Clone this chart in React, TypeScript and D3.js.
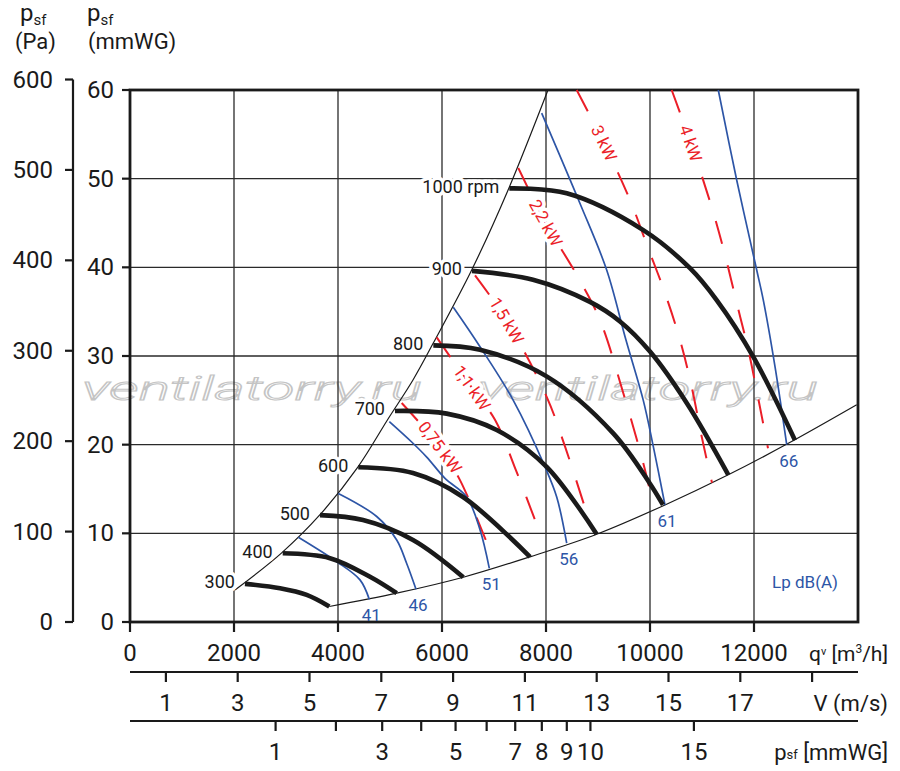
import React from "react";
import * as d3 from "d3";

type Pt = [number, number];

// axis ticks
const qTicks = [0, 2000, 4000, 6000, 8000, 10000, 12000];
const mmTicks = [0, 10, 20, 30, 40, 50, 60];
const paTicks = [0, 100, 200, 300, 400, 500, 600];
const vTicks = [1, 3, 5, 7, 9, 11, 13, 15, 17, 19];
const vLabels = [1, 3, 5, 7, 9, 11, 13, 15, 17];
const pdTicks = [1, 2, 3, 4, 5, 6, 7, 8, 9, 10, 15];
const pdLabels = [1, 3, 5, 7, 8, 9, 10, 15];

// fan curves, [qv m3/h, psf mmWG]
const rpmLabels = ["300", "400", "500", "600", "700", "800", "900", "1000 rpm"];
const rpm300: Pt[] = [[2211, 4.3], [2885, 3.8], [3398, 3.05], [3833, 1.75]];
const rpm400: Pt[] = [[2937, 7.75], [3846, 7.2], [4615, 5.1], [5129, 3.25]];
const rpm500: Pt[] = [[3654, 12.05], [4481, 11.5], [5442, 9.25], [6410, 5.05]];
const rpm600: Pt[] = [[4390, 17.45], [5442, 16.8], [6404, 14.1], [7692, 7.35]];
const rpm700: Pt[] = [[5096, 23.8], [6090, 23.5], [7052, 21.65], [8013, 17.5], [8975, 9.9]];
const rpm800: Pt[] = [[5833, 31.2], [6731, 30.7], [8013, 27.7], [9290, 21.3], [10000, 15.6], [10250, 13.2]];
const rpm900: Pt[] = [[6577, 39.6], [7750, 38.6], [8846, 36.1], [9423, 33.9], [10000, 30.5], [10706, 24.7], [11506, 16.6]];
const rpm1000: Pt[] = [[7294, 48.9], [8398, 48.35], [9871, 44.2], [10769, 39.9], [11282, 36.3], [11987, 29.9], [12788, 20.5]];
const rpmCurves = [rpm300, rpm400, rpm500, rpm600, rpm700, rpm800, rpm900, rpm1000];

// limits of the working area
const leftLimit: Pt[] = [[2019, 3.6], [2917, 7.8], [3654, 12.1], [4385, 17.5], [4962, 22.9], [5442, 27.3], [5827, 31.4], [6571, 39.7], [7269, 48.7], [8038, 60]];
const bottomLimit: Pt[] = [[3833, 1.75], [5129, 3.25], [6410, 5.05], [7692, 7.35], [8975, 9.9], [10288, 13.2], [11506, 16.6], [12660, 20.15], [13975, 24.5]];

// sound pressure lines
const dbLabels = ["41", "46", "51", "56", "61", "66"];
const db41: Pt[] = [[3237, 9.55], [3975, 6.8], [4423, 4.75], [4602, 2.55]];
const db46: Pt[] = [[4006, 14.5], [4744, 11.9], [5129, 9.25], [5321, 6.6], [5500, 3.7]];
const db51: Pt[] = [[4987, 22.6], [5417, 20.3], [5706, 18.6], [6058, 16.2], [6475, 14.1], [6731, 10.4], [6910, 6.05]];
const db56: Pt[] = [[6217, 35.5], [6731, 31.05], [7371, 25.0], [7981, 17.5], [8206, 14.1], [8398, 8.9]];
const db61: Pt[] = [[7917, 57.4], [8654, 47.2], [9167, 39.7], [9538, 31.8], [9871, 25.0], [10063, 19.8], [10288, 13.2]];
const db66: Pt[] = [[11313, 60], [11667, 49.85], [12052, 39.7], [12179, 36.3], [12404, 28.8], [12629, 20.0]];
const dbLines = [db41, db46, db51, db56, db61, db66];

// motor power lines (label sits on the 2nd point)
const kwLabels = ["0,75 kW", "1,1 kW", "1,5 kW", "2,2 kW", "3 kW", "4 kW"];
const kw075: Pt[] = [[5225, 24.7], [5962, 19.7], [6346, 16.0], [6904, 8.35]];
const kw11: Pt[] = [[5898, 32.1], [6577, 26.4], [7019, 22.8], [7423, 17.1], [7885, 10.0]];
const kw15: Pt[] = [[6635, 39.1], [7244, 34.0], [8013, 25.4], [8365, 19.8], [8782, 12.3]];
const kw22: Pt[] = [[7467, 51.2], [7996, 45.0], [8615, 38.9], [9038, 34.05], [9487, 25.8], [9871, 17.9], [10050, 13.5]];
const kw3: Pt[] = [[8590, 60], [9115, 54.0], [9615, 47.6], [9962, 42.2], [10288, 37.1], [10577, 31.8], [10802, 26.5], [11000, 20.75], [11192, 15.7]];
const kw4: Pt[] = [[10417, 60], [10785, 54.0], [11186, 46.8], [11442, 41.4], [11667, 36.0], [11890, 30.7], [12038, 26.5], [12269, 19.6]];
const kwLines = [kw075, kw11, kw15, kw22, kw3, kw4];

const RED = "#eb1e28";
const BLUE = "#2d55a6";
const INK = "#1a1a1a";
const FONT = "Roboto, 'DejaVu Sans', sans-serif";

export default function App() {
  const x = d3.scaleLinear().domain([0, 14000]).range([130, 858]);
  const y = d3.scaleLinear().domain([0, 60]).range([622, 90]);
  // same pressure in Pa (1 mmWG = 9.80665 Pa)
  const yPa = d3.scaleLinear().domain([0, 60 * 9.80665]).range([622, 90]);
  const xV = d3.scaleLinear().domain([0, 20]).range([130, 848]);
  const xPd = d3.scaleSqrt().domain([0, 16]).range([130, 712.4]);

  const line = d3
    .line<Pt>()
    .x((d) => x(d[0]))
    .y((d) => y(d[1]))
    .curve(d3.curveCatmullRom.alpha(0.5));

  const [x0, x1] = x.range();
  const [y0, y1] = y.range();

  return (
    <svg
      width={900}
      height={771}
      style={{ position: "absolute", left: 0, top: 0, background: "#fff" }}
      fontFamily={FONT}
    >
      {/* watermark */}
      {[82, 478].map((wx) => (
        <text
          key={wx}
          x={wx}
          y={400}
          fontSize={33}
          fontStyle="italic"
          fontWeight={300}
          fill="none"
          stroke="#c4c4c4"
          strokeWidth={1}
          textLength={340}
          lengthAdjust="spacingAndGlyphs"
        >
          ventilatorry.ru
        </text>
      ))}

      {/* grid */}
      <g stroke="#2a2a2a" strokeWidth={1.3}>
        {qTicks.slice(1).map((q) => (
          <line key={q} x1={x(q)} x2={x(q)} y1={y1} y2={y0} />
        ))}
        {mmTicks.slice(1, -1).map((p) => (
          <line key={p} x1={x0} x2={x1} y1={y(p)} y2={y(p)} />
        ))}
      </g>

      {/* frame and mmWG / qv ticks */}
      <g stroke={INK} strokeWidth={2.8} fill="none">
        <rect x={x0} y={y1} width={x1 - x0} height={y0 - y1} />
        {mmTicks.map((p) => (
          <line key={p} x1={x0 - 8} x2={x0} y1={y(p)} y2={y(p)} strokeWidth={2.2} />
        ))}
        {qTicks.map((q) => (
          <line key={q} x1={x(q)} x2={x(q)} y1={y0} y2={y0 + 10} strokeWidth={2.2} />
        ))}
      </g>

      {/* Pa axis */}
      <g stroke={INK} strokeWidth={2.2}>
        <line x1={73} x2={73} y1={yPa(600)} y2={yPa(0)} />
        {paTicks.map((p) => (
          <line key={p} x1={65} x2={73} y1={yPa(p)} y2={yPa(p)} />
        ))}
      </g>
      <g fontSize={24} fill={INK} textAnchor="end" dominantBaseline="central">
        {paTicks.map((p) => (
          <text key={p} x={53} y={yPa(p)}>
            {p}
          </text>
        ))}
        {mmTicks.map((p) => (
          <text key={p} x={114} y={y(p)}>
            {p}
          </text>
        ))}
      </g>

      {/* limit curves */}
      <g fill="none" stroke={INK} strokeWidth={1.2}>
        <path d={line(leftLimit) ?? ""} />
        <path d={line(bottomLimit) ?? ""} />
      </g>

      {/* power lines */}
      <g fill="none" stroke={RED} strokeWidth={2} strokeDasharray="24 22">
        {kwLines.map((pts, i) => (
          <path key={i} d={line(pts) ?? ""} />
        ))}
      </g>

      {/* sound lines */}
      <g fill="none" stroke={BLUE} strokeWidth={1.7}>
        {dbLines.map((pts, i) => (
          <path key={i} d={line(pts) ?? ""} />
        ))}
      </g>

      {/* power labels */}
      <g fontSize={17} fill={RED} textAnchor="middle" dominantBaseline="central">
        {kwLines.map((pts, i) => {
          const a = pts[0];
          const b = pts[2];
          const c = pts[1];
          const ang = (Math.atan2(y(b[1]) - y(a[1]), x(b[0]) - x(a[0])) * 180) / Math.PI;
          return (
            <text
              key={i}
              transform={`translate(${x(c[0])},${y(c[1])}) rotate(${ang})`}
              stroke="#fff"
              strokeWidth={7}
              strokeLinejoin="round"
              paintOrder="stroke"
            >
              {kwLabels[i]}
            </text>
          );
        })}
      </g>

      {/* fan curves */}
      <g fill="none" stroke={INK} strokeWidth={4.6}>
        {rpmCurves.map((pts, i) => (
          <path key={i} d={line(pts) ?? ""} />
        ))}
      </g>
      <g fontSize={18} fill={INK} textAnchor="end" dominantBaseline="central">
        {rpmCurves.map((pts, i) => (
          <text
            key={i}
            x={x(pts[0][0]) - 10}
            y={y(pts[0][1]) - 2}
            stroke="#fff"
            strokeWidth={7}
            strokeLinejoin="round"
            paintOrder="stroke"
          >
            {rpmLabels[i]}
          </text>
        ))}
      </g>

      {/* sound labels */}
      <g fontSize={17} fill={BLUE} textAnchor="middle" dominantBaseline="central">
        {dbLines.map((pts, i) => {
          const e = pts[pts.length - 1];
          return (
            <text key={i} x={x(e[0]) + 2} y={y(e[1]) + 16}>
              {dbLabels[i]}
            </text>
          );
        })}
        <text x={805} y={582}>
          Lp dB(A)
        </text>
      </g>

      {/* qv labels */}
      <g fontSize={24} fill={INK} textAnchor="middle">
        {qTicks.map((q) => (
          <text key={q} x={x(q)} y={661}>
            {q}
          </text>
        ))}
      </g>

      {/* velocity axis */}
      <g stroke={INK} strokeWidth={2.2}>
        <line x1={x0} x2={x1} y1={672} y2={672} />
        {vTicks.map((v) => (
          <line key={v} x1={xV(v)} x2={xV(v)} y1={672} y2={682} />
        ))}
      </g>
      <g fontSize={24} fill={INK} textAnchor="middle">
        {vLabels.map((v) => (
          <text key={v} x={xV(v)} y={711}>
            {v}
          </text>
        ))}
      </g>

      {/* dynamic pressure axis */}
      <g stroke={INK} strokeWidth={2.2}>
        <line x1={x0} x2={x1} y1={721} y2={721} />
        {pdTicks.map((p) => (
          <line key={p} x1={xPd(p)} x2={xPd(p)} y1={721} y2={731} />
        ))}
      </g>
      <g fontSize={24} fill={INK} textAnchor="middle">
        {pdLabels.map((p) => (
          <text key={p} x={xPd(p)} y={760}>
            {p}
          </text>
        ))}
      </g>

      {/* axis names */}
      <g fill={INK}>
        <text x={888} y={661} fontSize={21} textAnchor="end">
          q<tspan fontSize={11} dy={-6}>v</tspan>
          <tspan dy={6}> [m</tspan>
          <tspan fontSize={12} dy={-8}>3</tspan>
          <tspan dy={8}>/h]</tspan>
        </text>
        <text x={888} y={711} fontSize={22} textAnchor="end">
          V (m/s)
        </text>
        <text x={888} y={760} fontSize={22} textAnchor="end">
          p<tspan fontSize={13} dy={-1}>sf</tspan>
          <tspan dy={1}> [mmWG]</tspan>
        </text>

        <text x={20} y={20.5} fontSize={24}>
          p<tspan fontSize={15} dy={4.5}>sf</tspan>
        </text>
        <text x={15} y={49} fontSize={22}>
          (Pa)
        </text>
        <text x={87} y={20.5} fontSize={24}>
          p<tspan fontSize={15} dy={4.5}>sf</tspan>
        </text>
        <text x={88} y={49} fontSize={22}>
          (mmWG)
        </text>
      </g>
    </svg>
  );
}
